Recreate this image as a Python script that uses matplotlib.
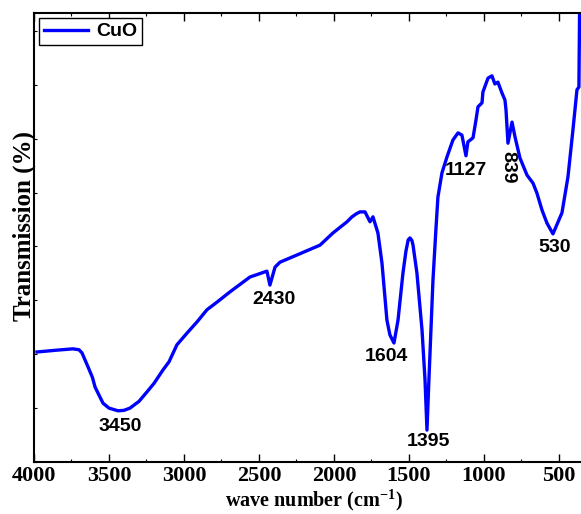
import matplotlib
matplotlib.use("Agg")
import matplotlib.pyplot as plt
from matplotlib.ticker import MultipleLocator

# FTIR spectrum of CuO

wavenumber = [3980, 3850, 3740, 3700, 3680, 3640, 3610, 3593, 3540, 3500,
              3440, 3400, 3360, 3300, 3247, 3200, 3140, 3100, 3047, 2980,
              2913, 2847, 2780, 2693, 2560, 2447, 2427, 2393, 2360, 2247,
              2093, 2007, 1913, 1880, 1850, 1827, 1793, 1760, 1740, 1707,
              1680, 1647, 1627, 1600, 1573, 1540, 1520, 1505, 1493, 1480,
              1473, 1447, 1413, 1393, 1380, 1367, 1340, 1320, 1307, 1280,
              1247, 1225, 1207, 1173, 1147, 1120, 1107, 1073, 1053, 1040,
              1013, 1007, 973, 947, 927, 907, 880, 860, 853, 840,
              813, 793, 760, 713, 673, 647, 613, 580, 540, 480,
              440, 407, 380, 367, 360]
transmission = [24.5, 24.9, 25.2, 25.0, 24.3, 21.2, 18.8, 16.7, 13.1, 12.0,
                11.4, 11.5, 12.0, 13.5, 15.6, 17.5, 20.5, 22.3, 26.1, 28.7,
                31.2, 33.9, 35.6, 37.9, 41.2, 42.5, 39.4, 43.4, 44.5, 46.1,
                48.3, 51.0, 53.5, 54.6, 55.3, 55.7, 55.7, 53.5, 54.6, 51.0,
                44.3, 31.6, 28.3, 26.5, 31.6, 42.1, 47.0, 49.5, 49.9, 49.3,
                48.3, 42.1, 29.4, 18.3, 7.1, 18.3, 40.5, 52.0, 59.0, 64.4,
                67.9, 70.0, 71.7, 73.3, 72.8, 68.2, 71.3, 72.2, 76.2, 79.1,
                80.0, 82.4, 85.5, 86.0, 84.2, 84.6, 82.2, 80.6, 78.4, 71.0,
                75.7, 72.4, 67.7, 63.9, 62.1, 59.9, 56.1, 53.2, 50.8, 55.5,
                63.5, 73.9, 82.9, 83.5, 110]

peak_labels = ["3450", "2430", "1604", "1395", "1127", "839", "530"]
label_x = [3427, 2400, 1653, 1373, 1120, 840, 527]
label_y = [8.0, 36.3, 23.6, 4.5, 65.0, 65.7, 47.7]
label_rot = [0, 0, 0, 0, 0, -90, 0]

plt.rcParams['mathtext.fontset'] = 'custom'
plt.rcParams['mathtext.rm'] = 'Liberation Serif:bold'
plt.rcParams['mathtext.bf'] = 'Liberation Serif:bold'

fig = plt.figure(figsize=(5.81, 5.14), dpi=100)
ax = fig.add_axes([0.0585, 0.1012, 0.9552, 0.8735])

ax.plot(wavenumber, transmission, color='#0000ff', lw=2.4, label='CuO',
        solid_joinstyle='round')

for txt, x, y, r in zip(peak_labels, label_x, label_y, label_rot):
    ax.text(x, y, txt, ha='center', va='center', rotation=r,
            fontsize=14, fontweight='bold', family='Liberation Sans')

ax.set_xlim(4000, 300)
ax.set_ylim(0, 100)
ax.xaxis.set_major_locator(MultipleLocator(500))
ax.xaxis.set_minor_locator(MultipleLocator(250))
ax.yaxis.set_major_locator(MultipleLocator(12))
ax.tick_params(axis='both', which='both', direction='in', top=True)
ax.tick_params(axis='x', which='major', length=6, width=1, pad=3)
ax.tick_params(axis='x', which='minor', length=2, width=0.8)
ax.tick_params(axis='y', length=2, width=0.8, labelleft=False)
for lbl in ax.get_xticklabels():
    lbl.set_family('Liberation Serif')
    lbl.set_fontweight('bold')
    lbl.set_fontsize(16)
for s in ax.spines.values():
    s.set_linewidth(1.5)

ax.set_xlabel(r'wave number (cm$^{\mathbf{-1}}$)', family='Liberation Serif',
              fontweight='bold', fontsize=14.5, labelpad=0)
ax.set_ylabel('Transmission (%)', family='Liberation Serif',
              fontweight='bold', fontsize=18, labelpad=6)
ax.yaxis.set_label_coords(0.003, 0.526)
ax.xaxis.set_label_coords(0.505, -0.055)

leg = ax.legend(loc='upper left', fancybox=False, edgecolor='black',
                framealpha=1, handlelength=2.3, borderpad=0.25,
                borderaxespad=0.25, handletextpad=0.4,
                prop={'family': 'Liberation Sans', 'weight': 'bold', 'size': 14})
leg.get_frame().set_linewidth(1.0)

fig.savefig('out.png', dpi=100)
